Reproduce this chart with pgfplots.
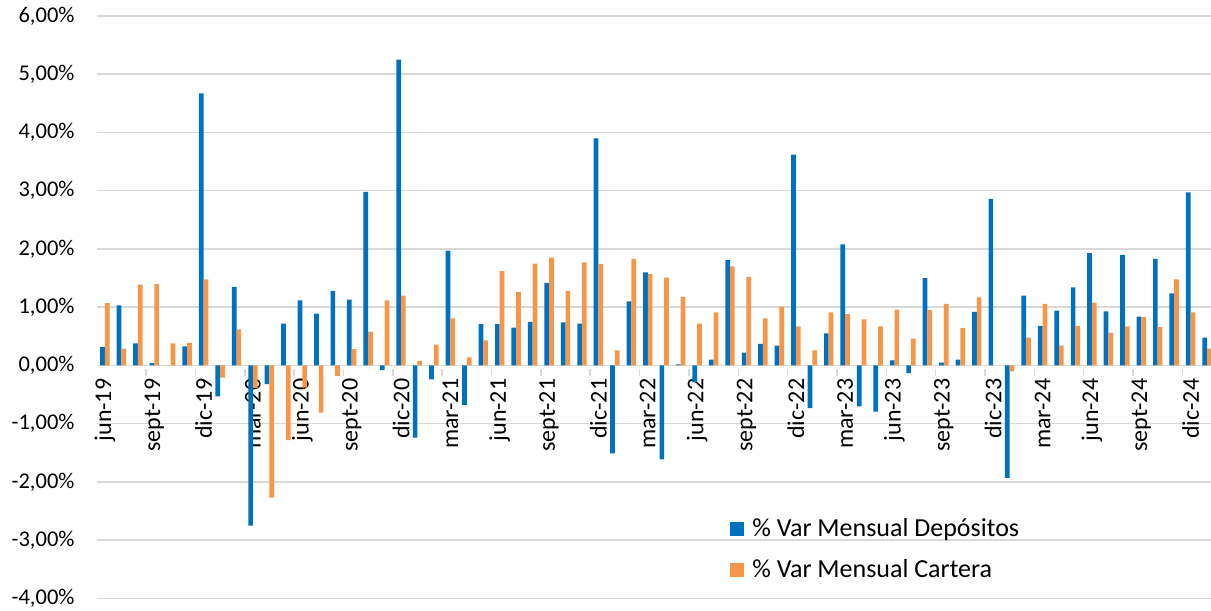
\documentclass[border=0pt]{standalone}
\usepackage{fontspec}
\setmainfont{Carlito}
\usepackage{pgfplots}
\usepackage{pgfplotstable}
\pgfplotsset{compat=1.18}
\definecolor{depblue}{HTML}{0070C0}
\definecolor{carorange}{HTML}{F79646}
\definecolor{gridgray}{HTML}{D9D9D9}
\pgfplotsset{layers/mylayers/.define layer set={axis background,axis grid,axis ticks,pre main,main,axis lines,axis tick labels,axis descriptions,axis foreground}{}}

\pgfplotstableread{
x dep car
0 0.32 1.07
1 1.03 0.29
2 0.38 1.39
3 0.04 1.40
4 0.00 0.38
5 0.33 0.39
6 4.67 1.48
7 -0.53 -0.21
8 1.35 0.62
9 -2.75 -0.39
10 -0.32 -2.27
11 0.72 -1.28
12 1.12 -0.38
13 0.89 -0.81
14 1.28 -0.18
15 1.13 0.28
16 2.98 0.58
17 -0.08 1.12
18 5.25 1.20
19 -1.24 0.08
20 -0.24 0.36
21 1.97 0.81
22 -0.68 0.14
23 0.71 0.43
24 0.71 1.62
25 0.65 1.26
26 0.75 1.75
27 1.42 1.85
28 0.74 1.28
29 0.72 1.77
30 3.90 1.74
31 -1.51 0.26
32 1.10 1.83
33 1.60 1.57
34 -1.61 1.51
35 0.02 1.18
36 -0.29 0.72
37 0.10 0.91
38 1.81 1.70
39 0.22 1.52
40 0.37 0.81
41 0.34 1.01
42 3.62 0.67
43 -0.73 0.26
44 0.55 0.91
45 2.08 0.88
46 -0.70 0.79
47 -0.79 0.67
48 0.09 0.96
49 -0.13 0.46
50 1.50 0.95
51 0.05 1.06
52 0.10 0.64
53 0.92 1.17
54 2.86 0.00
55 -1.93 -0.10
56 1.20 0.48
57 0.68 1.06
58 0.94 0.34
59 1.34 0.68
60 1.93 1.08
61 0.93 0.56
62 1.90 0.67
63 0.84 0.83
64 1.83 0.66
65 1.24 1.48
66 2.97 0.91
67 0.48 0.29
}\datatable

\begin{document}
\fontsize{22.5bp}{27bp}\selectfont
\begin{tikzpicture}
\begin{axis}[
  set layers=mylayers,
  at={(0,0)}, anchor=south west,
  scale only axis, width=1114.3bp, height=582.5bp,
  xmin=-0.5, xmax=67.24, ymin=-4, ymax=6,
  ybar=0pt, bar width=4.7bp,
  axis x line*=middle, axis y line*=left,
  y axis line style={draw=none},
  x axis line style={gridgray, line width=1.5bp},
  ytick={-4,-3,-2,-1,0,1,2,3,4,5,6},
  yticklabels={{-4,00\%},{-3,00\%},{-2,00\%},{-1,00\%},{0,00\%},{1,00\%},{2,00\%},{3,00\%},{4,00\%},{5,00\%},{6,00\%}},
  ymajorgrids, grid style={gridgray, line width=1.5bp},
  y tick style={draw=none},
  yticklabel style={inner sep=0pt, anchor=east, xshift=-22bp},
  xtick={-0.5,2.5,...,65.5}, xticklabels={},
  x tick style={gridgray, line width=1.5bp, yshift=-3.5bp},
  major tick length=7bp,
  extra x ticks={0,3,...,66},
  extra x tick labels={jun-19,sept-19,dic-19,mar-20,jun-20,sept-20,dic-20,mar-21,jun-21,sept-21,dic-21,mar-22,jun-22,sept-22,dic-22,mar-23,jun-23,sept-23,dic-23,mar-24,jun-24,sept-24,dic-24},
  extra x tick style={major tick length=0pt, tick style={draw=none}, tick label style={rotate=90, anchor=east, inner sep=0pt, xshift=-13bp, font=\fontsize{24bp}{28bp}\selectfont}},
  legend style={at={(axis description cs:0.5684,0.1399)}, anchor=north west, draw=none, fill=none, inner sep=0pt, row sep=17.5bp, column sep=7bp, nodes={inner sep=1bp}, font=\fontsize{26bp}{30bp}\selectfont},
  legend cell align=left,
]
\addplot[fill=depblue, draw=none, legend image code/.code={\fill[depblue] (0bp,-7bp) rectangle (14bp,7bp);}] table[x=x, y=dep] {\datatable};
\addlegendentry{\% Var Mensual Depósitos}
\addplot[fill=carorange, draw=none, legend image code/.code={\fill[carorange] (0bp,-7bp) rectangle (14bp,7bp);}] table[x=x, y=car] {\datatable};
\addlegendentry{\% Var Mensual Cartera}
\end{axis}
\pgfresetboundingbox
\useasboundingbox (-96.7bp,-12.5bp) rectangle (1114.3bp,598.5bp);
\end{tikzpicture}
\end{document}
